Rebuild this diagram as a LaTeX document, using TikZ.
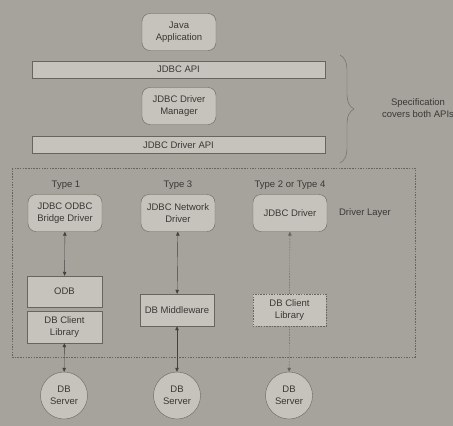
\documentclass[tikz,border=0pt]{standalone}
\usepackage{fontspec}
\setmainfont{Liberation Sans}
\usetikzlibrary{arrows.meta,decorations.pathreplacing}
\definecolor{paper}{RGB}{166,163,156}
\definecolor{boxfill}{RGB}{198,195,188}
\definecolor{edge}{RGB}{104,101,97}
\definecolor{ink}{RGB}{58,56,54}
\begin{document}
\begin{tikzpicture}[x=1pt,y=-1pt,font=\fontsize{9.5}{12}\selectfont,text=ink,
  rbox/.style={draw=edge,fill=boxfill,rounded corners=8pt,minimum width=74pt,minimum height=37pt,align=center,inner sep=1pt},
  bar/.style={draw=edge,fill=boxfill,minimum width=293pt,minimum height=17pt,inner sep=1pt},
  sbox/.style={draw=edge,fill=boxfill,minimum width=75pt,minimum height=32pt,align=center,inner sep=1pt},
  server/.style={circle,draw=edge,fill=boxfill,minimum size=47pt,align=center,inner sep=0pt},
  link/.style={draw=ink!80!edge,{Triangle[length=4pt,width=3.5pt]}-{Triangle[length=4pt,width=3.5pt]}},
  dash line/.style={draw=edge,dash pattern=on 1.5pt off 1.2pt}]
\useasboundingbox (0,0) rectangle (453,426);
\fill[paper] (0,0) rectangle (453,426);
\node[rbox] (app) at (179,32) {Java\\Application};
\node[bar] (api) at (178.5,69.5) {JDBC API};
\node[rbox] (mgr) at (179,106) {JDBC Driver\\Manager};
\node[bar] (dapi) at (178.5,145) {JDBC Driver API};
\draw[edge,decorate,decoration={brace,amplitude=14pt}] (340,55) -- (340,163);
\node[align=center] (spec) at (418,108) {Specification\\covers both APIs};
\draw[dash line] (12,168) rectangle (415,357);
\node (t1) at (66,185) {Type 1};
\node (t3) at (178,185) {Type 3};
\node (t4) at (290,185) {Type 2 or Type 4};
\node[rbox] (b1) at (65,213) {JDBC ODBC\\Bridge Driver};
\node[rbox] (b3) at (178,213) {JDBC Network\\Driver};
\node[rbox] (b4) at (290,213) {JDBC Driver};
\node (layer) at (365,213) {Driver Layer};
\node[sbox,minimum height=31pt] (odb) at (64.5,291.5) {ODB};
\node[sbox] (cl1) at (64.5,327) {DB Client\\Library};
\node[sbox,minimum width=74pt] (mw) at (177,310) {DB Middleware};
\node[sbox,minimum width=73pt,draw=none] (cl4) at (289.5,310) {DB Client\\Library};
\draw[dash line] (cl4.north west) rectangle (cl4.south east);
\node[server] (s1) at (64,395.5) {DB\\Server};
\node[server] (s3) at (177,395.5) {DB\\Server};
\node[server] (s4) at (289,395.5) {DB\\Server};
\draw[link] (b1) -- (odb);
\draw[link] (b3) -- (mw);
\draw[link] (cl1) -- (s1);
\draw[link] (mw) -- (s3);
\draw[dash line,{Triangle[length=4pt,width=3.5pt]}-] (b4) -- (cl4);
\draw[dash line,-{Triangle[length=4pt,width=3.5pt]}] (cl4) -- (s4);
\end{tikzpicture}
\end{document}
